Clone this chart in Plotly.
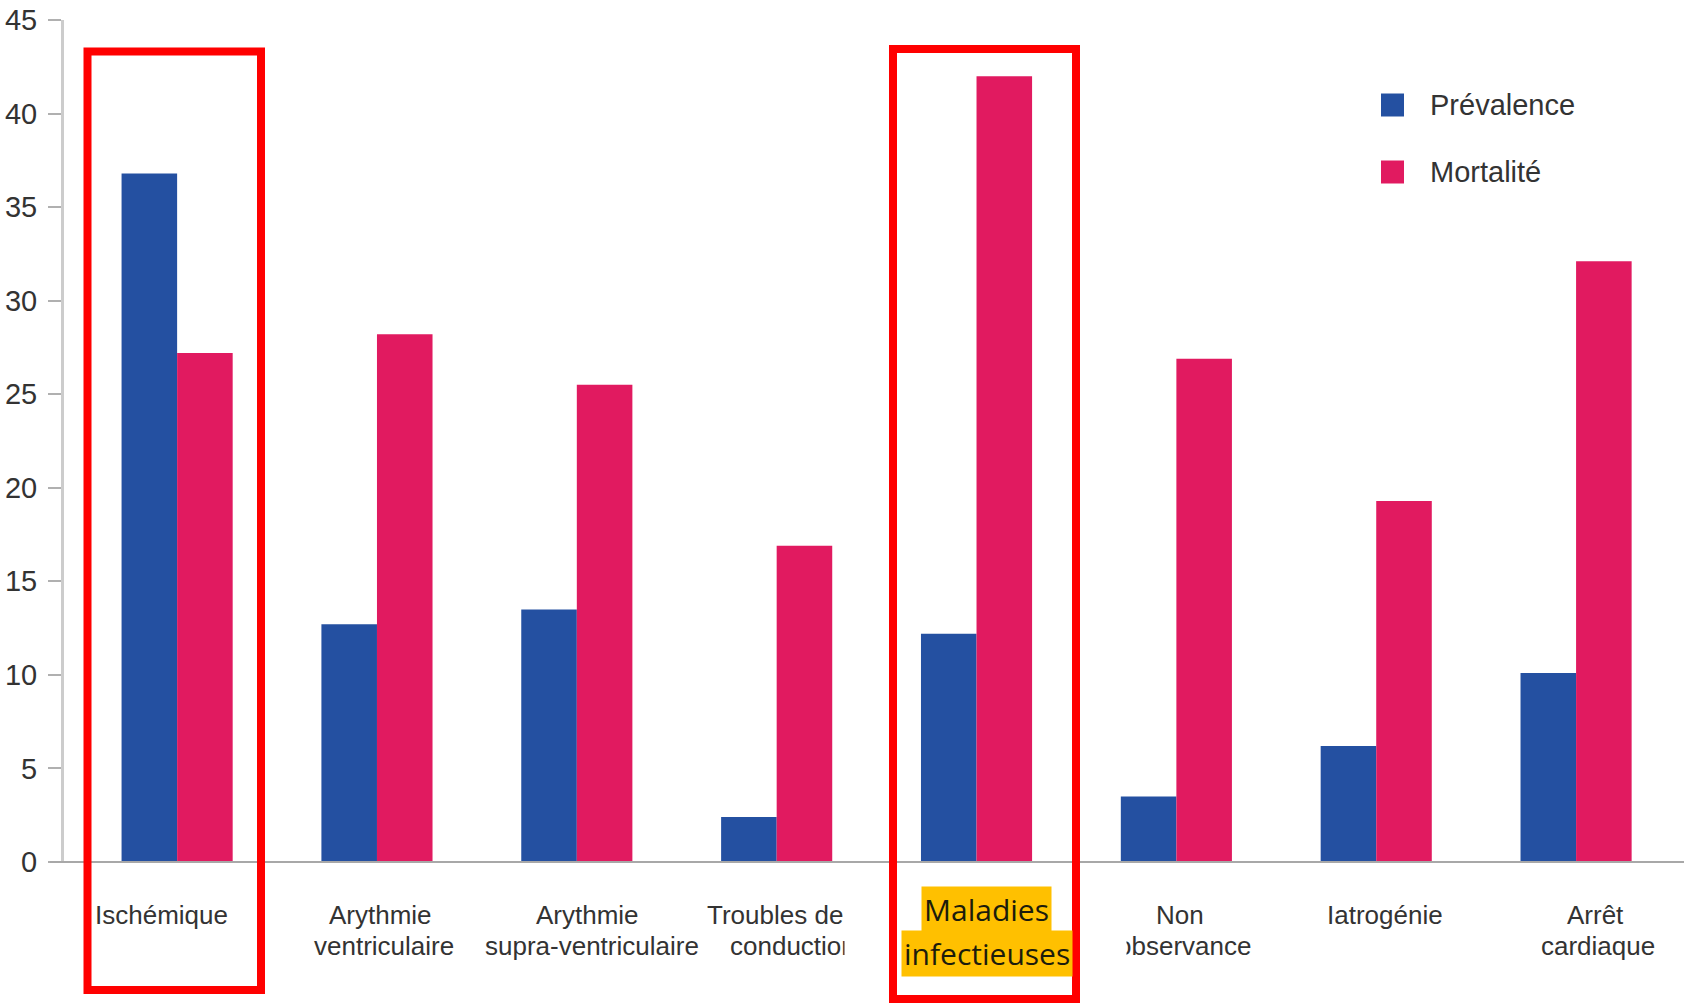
import plotly.graph_objects as go

# Causes of cardiac decompensation: prevalence vs mortality (%)
categories = [
    "Ischémique",
    "Arythmie ventriculaire",
    "Arythmie supra-ventriculaire",
    "Troubles de conduction",
    "Maladies infectieuses",
    "Non observance",
    "Iatrogénie",
    "Arrêt cardiaque",
]
label_lines = [
    ["Ischémique"],
    ["Arythmie", "ventriculaire"],
    ["Arythmie", "supra-ventriculaire"],
    ["Troubles de", "conduction"],
    ["Maladies", "infectieuses"],
    ["Non", "observance"],
    ["Iatrogénie"],
    ["Arrêt", "cardiaque"],
]
prevalence = [36.8, 12.7, 13.5, 2.4, 12.2, 3.5, 6.2, 10.1]
mortalite = [27.2, 28.2, 25.5, 16.9, 42.0, 26.9, 19.3, 32.1]
y_ticks = [0, 5, 10, 15, 20, 25, 30, 35, 40, 45]

BLUE = "#2450A1"
PINK = "#E11A60"
RED = "#FF0000"
GOLD = "#FFC000"
TEXT = "#333333"
FONT = "Liberation Sans, Arial, sans-serif"

W, H = 1684, 1005
L, T, R, B = 64, 20, 0, 143
PW, PH = W - L - R, H - T - B


def px(x):
    return (x - L) / PW


def py(y):
    return (T + PH - y) / PH


fig = go.Figure()
fig.add_trace(go.Bar(x=list(range(len(categories))), y=prevalence, name="Prévalence",
                     marker=dict(color=BLUE, line=dict(width=0)), showlegend=False))
fig.add_trace(go.Bar(x=list(range(len(categories))), y=mortalite, name="Mortalité",
                     marker=dict(color=PINK, line=dict(width=0)), showlegend=False))

shapes = []
annotations = []

# baseline (extends a little left of the y axis)
shapes.append(dict(type="line", xref="paper", yref="paper", x0=px(50), x1=1, y0=0, y1=0,
                   line=dict(color="#A8A8A8", width=2), layer="above"))

# category labels under each group, one annotation per text line
line_shift = [[-16], [4, 7], [11, 15], [-2, 16], None, [4, 8], [9], [19, 22]]
row_y = [915, 946]
HIGHLIGHT = 4
for i, lines in enumerate(label_lines):
    if i == HIGHLIGHT:
        continue
    for j, line in enumerate(lines):
        annotations.append(dict(x=i, xref="x", y=py(row_y[j]), yref="paper",
                                xshift=line_shift[i][j], text=line, showarrow=False,
                                xanchor="center", yanchor="middle", borderpad=0,
                                font=dict(family=FONT, size=26, color=TEXT)))

# white text-box edges around the highlighted label
for x0, x1 in [(845, 887), (1082, 1126)]:
    annotations.append(dict(x=px((x0 + x1) / 2), xref="paper", y=py(927), yref="paper",
                            text=" ", showarrow=False, width=x1 - x0, height=100,
                            bgcolor="white", borderpad=0, xanchor="center", yanchor="middle"))

# highlighted label
for line, yc in zip(label_lines[HIGHLIGHT], [909, 953]):
    annotations.append(dict(x=HIGHLIGHT, xref="x", xshift=10, y=py(yc), yref="paper",
                            text=line, showarrow=False, xanchor="center", yanchor="middle",
                            bgcolor=GOLD, borderpad=2,
                            font=dict(family="Open Sans, sans-serif", size=30, color="#1C1C0C")))

# red frames around two causes
for x0, x1, y0, y1 in [(87.5, 261, 51.5, 990), (893, 1076, 49, 999)]:
    shapes.append(dict(type="rect", xref="paper", yref="paper",
                       x0=px(x0), x1=px(x1), y0=py(y1), y1=py(y0),
                       line=dict(color=RED, width=8), layer="above"))

# legend
for (name, color), yc in zip([("Prévalence", BLUE), ("Mortalité", PINK)], [105, 172]):
    shapes.append(dict(type="rect", xref="paper", yref="paper",
                       x0=px(1381), x1=px(1404), y0=py(yc + 11.5), y1=py(yc - 11.5),
                       fillcolor=color, line=dict(width=0)))
    annotations.append(dict(x=px(1428), xref="paper", y=py(yc), yref="paper",
                            text=name, showarrow=False, xanchor="left", yanchor="middle",
                            font=dict(family=FONT, size=29, color=TEXT)))

fig.update_layout(
    width=W, height=H,
    margin=dict(l=L, r=R, t=T, b=B, pad=0),
    paper_bgcolor="white", plot_bgcolor="white",
    barmode="group", bargap=0.444, bargroupgap=0,
    shapes=shapes, annotations=annotations,
    showlegend=False,
    xaxis=dict(range=[-0.566, 7.54], showticklabels=False, showgrid=False,
               zeroline=False, showline=False, ticks=""),
    yaxis=dict(range=[0, 45], tickvals=y_ticks, ticks="outside", ticklen=13,
               tickcolor="#B0B0B0", tickwidth=1.5, showline=True, linecolor="#CCCCCC",
               linewidth=3, showgrid=False, zeroline=False, ticklabelstandoff=5,
               tickfont=dict(family=FONT, size=29, color=TEXT)),
)

fig.write_html("out.html")
